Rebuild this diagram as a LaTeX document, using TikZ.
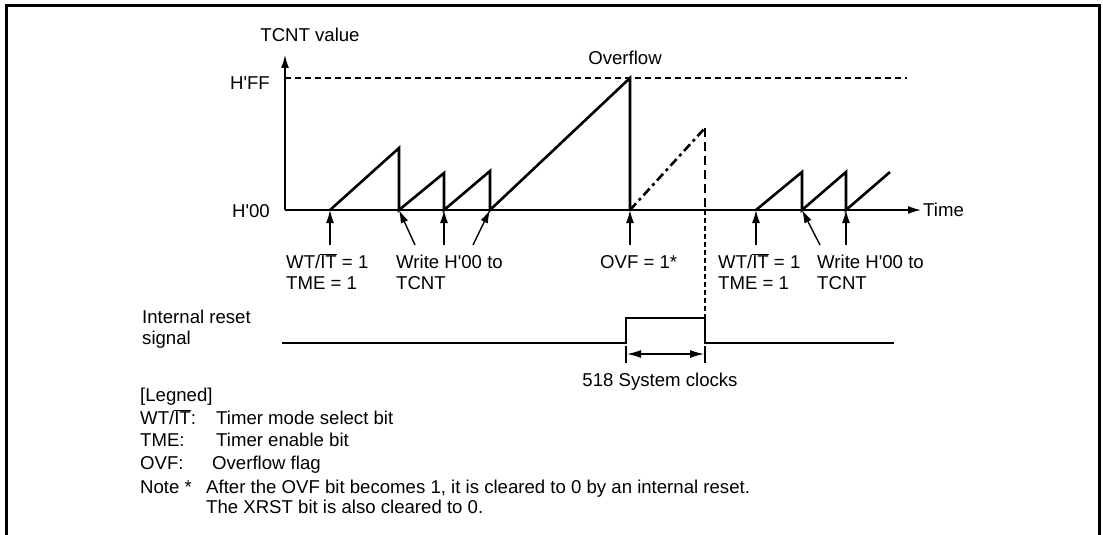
\documentclass[tikz,border=0pt]{standalone}
\usepackage{fontspec}
\setmainfont{Liberation Sans}[Ligatures=TeXOff]
\usetikzlibrary{arrows.meta}
\newcommand\ovl[1]{$\overline{\hbox{#1}}$}
\begin{document}
\begin{tikzpicture}[x=1pt,y=-1pt,
  font=\fontsize{18.6}{22}\selectfont,
  heavy/.style={line width=2.6pt, line join=miter},
  axis/.style={line width=1.5pt},
  tip/.style={-{Latex[length=13pt,width=8pt]}},
  ptr/.style={line width=1.4pt,-{Latex[length=13pt,width=8pt]}},
  lbl/.style={anchor=base west, inner sep=0pt},
  lble/.style={anchor=base east, inner sep=0pt},
  lblc/.style={anchor=base, inner sep=0pt}]
\useasboundingbox (0,0) rectangle (1103,535);
% frame
\draw[line width=3pt] (6,537) -- (6,6) -- (1099,6) -- (1099,537);
% axes
\coordinate (O) at (285,210);
\coordinate (Ytop) at (285,55);
\coordinate (Xend) at (921,210);
\draw[axis,tip] (O) -- (Ytop);
\draw[axis,tip] (O) -- (Xend);
\node[lblc] (tcnt) at (310,41.5) {TCNT value};
\node[lblc] (ovfl) at (625,64.5) {Overflow};
\node[lble] (hff) at (270,89.5) {H'FF};
\node[lble] (h00) at (270,217.5) {H'00};
\node[lbl] (time) at (923,216.5) {Time};
% H'FF level
\coordinate (ffa) at (285,78);
\coordinate (ffb) at (907,78);
\draw[line width=1.1pt, dash pattern=on 6pt off 4pt] (ffa) -- (ffb);
% sawtooth
\draw[heavy] (330,210) -- (399,148) -- (399,210) -- (444,173) -- (444,210)
  -- (490,171) -- (490,210) -- (630,78) -- (630,210);
\draw[heavy, dash pattern=on 9pt off 4pt on 3pt off 4pt] (630,210) -- (705,128);
\draw[line width=2.6pt, dash pattern=on 9pt off 5pt] (705,128) -- (705,210);
\draw[line width=1.2pt, dash pattern=on 5pt off 3pt] (705,210) -- (705,318);
\draw[heavy] (756,210) -- (802,172) -- (802,210) -- (846,172) -- (846,210) -- (890,172);
% pointer arrows
\coordinate (p1s) at (330,245); \coordinate (p1t) at (330,210);
\coordinate (p2s) at (415,245); \coordinate (p2t) at (399,210);
\coordinate (p3s) at (444,245); \coordinate (p3t) at (444,210);
\coordinate (p4s) at (473,245); \coordinate (p4t) at (490,210);
\coordinate (p5s) at (630,245); \coordinate (p5t) at (630,210);
\coordinate (p6s) at (756,245); \coordinate (p6t) at (756,210);
\coordinate (p7s) at (820,245); \coordinate (p7t) at (802,210);
\coordinate (p8s) at (846,245); \coordinate (p8t) at (846,210);
\foreach \i in {1,...,8} {\draw[ptr] (p\i s) -- (p\i t);}
% labels under axis
\node[lbl] (l1a) at (286,268) {WT/\ovl{IT} = 1};
\node[lbl] (l1b) at (286,289) {TME = 1};
\node[lbl] (l2a) at (396,268) {Write H'00 to};
\node[lbl] (l2b) at (396,289) {TCNT};
\node[lbl] (l3) at (600,268) {OVF = 1*};
\node[lbl] (l4a) at (718,268) {WT/\ovl{IT} = 1};
\node[lbl] (l4b) at (718,289) {TME = 1};
\node[lbl] (l5a) at (817,268) {Write H'00 to};
\node[lbl] (l5b) at (817,289) {TCNT};
% reset signal
\node[lbl] (rs1) at (142,323) {Internal reset};
\node[lbl] (rs2) at (142,344) {signal};
\draw[heavy] (282,343) -- (626,343) -- (626,318) -- (705,318) -- (705,343) -- (894,343);
\coordinate (t1a) at (626,346); \coordinate (t1b) at (626,363);
\coordinate (t2a) at (705,346); \coordinate (t2b) at (705,363);
\draw[line width=1.2pt] (t1a) -- (t1b);
\draw[line width=1.2pt] (t2a) -- (t2b);
\coordinate (d1) at (627,354); \coordinate (d2) at (704,354);
\draw[line width=1.4pt,{Latex[length=14pt,width=8pt]}-{Latex[length=14pt,width=8pt]}] (d1) -- (d2);
\node[lblc] (clk) at (660,386) {518 System clocks};
% legend
\node[lbl] (lg) at (140,401) {[Legned]};
\node[lbl] (lg1) at (140,424) {WT/\ovl{IT}:};
\node[lbl] (lg1t) at (216,424) {Timer mode select bit};
\node[lbl] (lg2) at (140,446) {TME:};
\node[lbl] (lg2t) at (216,446) {Timer enable bit};
\node[lbl] (lg3) at (140,469) {OVF:};
\node[lbl] (lg3t) at (212,469) {Overflow flag};
\node[lbl] (nt) at (140,493) {Note *};
\node[lbl] (nt1) at (206,493) {After the OVF bit becomes 1, it is cleared to 0 by an internal reset.};
\node[lbl] (nt2) at (206,513) {The XRST bit is also cleared to 0.};
\end{tikzpicture}
\end{document}
